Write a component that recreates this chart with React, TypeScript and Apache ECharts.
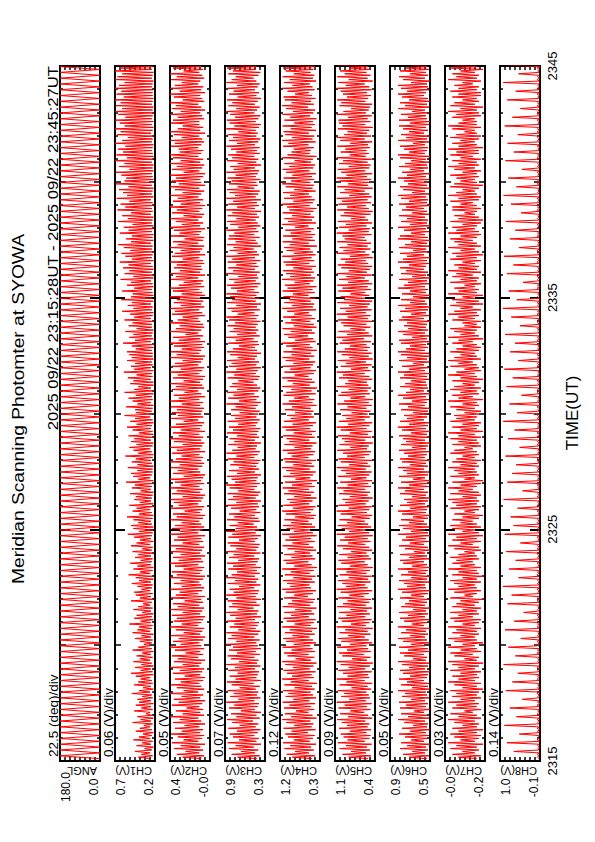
import React, { useEffect, useRef } from "react";
import * as echarts from "echarts";

// ---------- text ----------
const TITLE = "Meridian Scanning Photomter at SYOWA";
const PERIOD = "2025 09/22 23:15:28UT - 2025 09/22 23:45:27UT";
const X_NAME = "TIME(UT)";
const CHANNELS = ["ANGL", "CH1(V)", "CH2(V)", "CH3(V)", "CH4(V)", "CH5(V)", "CH6(V)", "CH7(V)", "CH8(V)"];
const DIV_LABELS = ["22.5 (deg)/div", "0.06 (V)/div", "0.05 (V)/div", "0.07 (V)/div", "0.12 (V)/div", "0.09 (V)/div", "0.05 (V)/div", "0.03 (V)/div", "0.14 (V)/div"];
const AXIS_MIN = [0, 0.2, -0.01, 0.3, 0.3, 0.4, 0.5, -0.2, -0.1];
const AXIS_MAX = [180, 0.7, 0.4, 0.9, 1.2, 1.1, 0.9, -0.004, 1.0];
// time in minutes after 23:15 UT
const TIME_MIN = 0;
const TIME_MAX = 30;
const TIME_TICKS = [0, 10, 20, 30];
const TIME_START = 0.1;
const ANGLE_STEP = 0.125; // minutes between angle samples
const CH_STEP = 0.0625; // minutes between photometer samples

// ---------- data ----------
// scan angle, degrees
const ANGLE = [
  0,180,0,180,0,180,0,180,0,180,0,180,0,180,0,180,0,180,0,180,
  0,180,0,180,0,180,0,180,0,180,0,180,0,180,0,180,0,180,0,180,
  0,180,0,180,0,180,0,180,0,180,0,180,0,180,0,180,0,180,0,180,
  0,180,0,180,0,180,0,180,0,180,0,180,0,180,0,180,0,180,0,180,
  0,180,0,180,0,180,0,180,0,180,0,180,0,180,0,180,0,180,0,180,
  0,180,0,180,0,180,0,180,0,180,0,180,0,180,0,180,0,180,0,180,
  0,180,0,180,0,180,0,180,0,180,0,180,0,180,0,180,0,180,0,180,
  0,180,0,180,0,180,0,180,0,180,0,180,0,180,0,180,0,180,0,180,
  0,180,0,180,0,180,0,180,0,180,0,180,0,180,0,180,0,180,0,180,
  0,180,0,180,0,180,0,180,0,180,0,180,0,180,0,180,0,180,0,180,
  0,180,0,180,0,180,0,180,0,180,0,180,0,180,0,180,0,180,0,180,
  0,180,0,180,0,180,0,180,0,180,0,180,0,180,0,180,0,180,0,180,
];
// photometer channels, in units of 0.01 V
const CV = 0.01;
const CH1 = [
  25,41,23,37,26,45,24,33,22,43,25,36,23,47,26,40,24,35,22,44,
  24,39,26,34,23,48,25,38,22,42,24,31,26,46,23,37,25,44,22,40,
  25,42,23,36,24,49,26,40,22,35,25,46,23,41,24,38,26,44,22,50,
  23,38,25,45,22,37,24,47,26,39,23,43,25,36,22,48,24,41,26,34,
  24,39,23,45,25,37,22,48,26,42,24,40,23,52,25,38,22,46,24,43,
  22,36,25,47,23,41,26,35,24,50,22,39,25,44,23,46,26,37,24,42,
  23,49,25,40,22,44,24,53,26,39,23,47,22,42,25,51,24,38,23,45,
  25,41,22,48,24,36,23,50,26,43,22,39,25,46,24,54,23,40,22,47,
  22,50,24,41,25,47,23,55,22,40,24,48,26,43,23,52,22,39,25,46,
  24,44,23,51,22,38,25,49,24,45,23,56,22,41,26,47,24,50,23,42,
  23,54,22,42,24,49,25,44,23,57,22,41,24,47,26,52,23,43,22,50,
  25,46,24,53,22,40,23,48,25,55,24,43,22,51,23,45,26,58,24,44,
  24,45,23,56,22,42,25,48,23,53,24,44,22,58,23,46,25,41,22,51,
  22,47,25,54,23,43,24,59,22,46,25,50,23,45,24,55,22,49,23,52,
  23,55,24,44,22,49,23,60,25,45,22,52,24,47,23,57,22,43,24,53,
  24,48,22,58,25,46,23,51,22,61,24,47,23,54,25,49,22,62,24,50,
  22,48,23,61,24,46,22,55,23,50,25,63,22,47,23,58,24,52,22,60,
  23,53,25,64,22,49,24,57,23,62,22,51,24,59,23,66,25,50,22,56,
  23,49,22,64,24,53,23,59,22,48,24,66,23,54,22,61,25,50,23,67,
  24,57,22,63,23,52,25,68,22,55,24,60,23,65,22,53,24,69,23,58,
  22,56,23,62,24,69,22,52,23,65,22,58,24,70,23,55,22,68,23,60,
  24,66,23,57,22,70,24,61,23,54,22,67,25,63,23,70,22,58,24,64,
  22,70,24,57,23,66,22,70,23,61,22,69,24,63,23,70,22,59,23,68,
  23,62,22,70,24,65,23,58,22,70,24,67,23,61,22,70,24,64,23,69,
];
const CH2 = [
  8,27,5,33,10,24,6,36,9,29,4,38,11,26,7,32,5,39,9,28,
  6,35,10,25,4,37,8,30,11,40,5,27,9,34,6,23,10,38,7,31,
  4,36,9,28,6,40,11,26,5,33,8,39,10,29,6,35,4,25,9,37,
  7,30,5,40,10,27,8,36,4,32,11,38,6,24,9,35,5,40,8,29,
  10,37,6,31,4,39,9,26,7,34,5,40,11,28,8,36,6,33,4,38,
  9,27,7,40,5,32,10,37,6,25,8,39,4,34,11,30,7,40,5,28,
  8,36,10,29,6,40,4,33,9,38,7,26,5,35,11,40,6,31,8,37,
  4,29,9,39,7,34,5,40,10,27,6,36,8,32,4,40,11,30,7,38,
  5,35,8,28,10,40,6,33,4,37,9,25,7,39,5,31,11,36,8,40,
  6,27,4,38,9,33,7,40,10,29,5,35,8,40,6,26,4,37,9,32,
  11,39,7,30,5,40,8,34,6,28,10,38,4,33,9,40,7,27,5,36,
  8,40,6,31,10,37,4,29,9,40,7,34,5,26,11,39,6,32,8,38,
  7,33,5,39,9,28,6,40,10,31,4,36,8,25,11,38,5,34,7,40,
  9,26,6,37,4,32,10,40,7,29,5,38,11,35,8,27,6,40,4,33,
  10,39,8,28,5,36,7,40,4,31,9,37,6,24,11,40,8,34,5,30,
  6,40,9,32,11,27,4,38,7,35,10,40,5,29,8,36,6,33,9,40,
  4,28,7,37,10,40,5,31,8,26,6,39,11,34,4,40,9,30,7,36,
  8,33,5,40,6,27,10,38,4,35,9,29,7,40,5,32,11,37,6,25,
  5,39,10,30,8,36,4,40,9,28,6,34,11,40,7,26,5,38,10,33,
  7,40,4,29,9,37,6,32,11,40,8,27,5,35,10,40,4,31,8,38,
  9,34,6,40,4,26,10,38,7,33,5,40,9,29,6,37,11,40,8,30,
  6,31,11,39,8,35,5,40,7,28,10,36,4,40,9,32,6,27,10,39,
  10,37,5,32,7,40,9,29,4,38,8,34,11,40,5,27,7,36,9,40,
  4,30,8,40,6,35,11,28,9,39,5,33,7,40,10,26,6,37,8,40,
];
const CH3 = [
  42,71,38,80,45,66,40,84,47,74,36,86,43,69,39,78,46,83,41,72,
  37,85,44,68,40,79,48,87,38,73,43,81,36,66,45,84,41,76,39,88,
  46,70,37,82,42,77,40,86,44,68,38,80,47,87,36,74,43,83,41,71,
  39,85,45,75,37,88,42,69,40,81,46,86,38,72,44,84,36,78,41,87,
  43,73,38,85,46,80,40,88,37,70,44,83,41,76,39,87,45,74,36,82,
  42,88,40,71,47,84,38,79,43,86,36,73,44,88,41,77,39,83,46,69,
  37,86,43,75,40,88,45,80,38,72,42,85,36,78,44,87,41,70,39,84,
  46,77,37,88,43,73,40,82,38,86,45,69,41,85,36,79,44,88,39,74,
  42,83,47,71,38,87,40,76,45,84,37,68,43,81,39,88,41,73,36,85,
  44,78,40,86,37,70,46,83,42,88,38,75,43,80,41,87,36,72,45,84,
  39,69,43,82,40,77,37,86,46,73,41,88,38,79,44,71,42,85,36,76,
  45,83,39,72,42,87,40,78,37,84,44,70,41,86,38,75,43,81,40,68,
  38,81,44,74,41,88,36,69,43,85,39,77,46,87,40,72,37,83,42,79,
  47,70,40,86,38,76,44,88,41,73,36,84,43,80,39,87,45,71,42,82,
  36,87,42,78,45,69,39,85,41,74,47,88,38,72,43,83,40,77,44,86,
  41,75,37,84,43,88,40,71,46,80,38,86,42,73,36,87,44,79,39,82,
  43,88,39,72,46,81,41,87,37,76,44,84,40,70,42,88,38,78,45,85,
  40,73,43,86,37,79,45,88,39,71,42,83,47,77,36,87,41,74,44,85,
  38,84,46,76,40,88,43,70,37,82,41,87,44,73,39,86,42,79,36,88,
  45,72,39,85,42,78,36,88,44,75,40,83,38,87,46,71,41,84,43,80,
  37,86,44,74,41,88,39,77,45,82,36,71,43,87,40,79,46,85,38,73,
  42,81,38,88,45,72,40,84,37,78,43,86,41,70,44,88,39,76,36,83,
  44,87,40,75,37,82,46,88,42,73,38,85,45,79,41,87,36,71,43,84,
  39,77,45,86,41,72,38,88,43,80,47,74,40,85,37,78,44,87,42,70,
];
const CH4 = [
  48,92,41,105,55,86,44,110,50,97,39,113,53,89,46,102,42,108,57,94,
  40,112,49,88,45,106,52,115,38,95,47,109,56,84,43,111,50,99,41,114,
  54,90,39,107,46,101,51,113,42,87,48,110,37,96,55,115,44,93,49,104,
  40,112,53,91,45,108,38,115,50,85,43,103,56,111,41,94,47,114,52,89,
  39,106,46,113,54,92,42,109,48,98,37,115,51,87,44,105,40,112,55,95,
  43,110,49,86,38,114,52,102,45,93,41,111,57,88,46,107,39,115,50,97,
  54,104,42,113,48,90,40,109,53,96,44,115,37,88,49,106,56,112,41,94,
  47,111,52,87,39,103,45,114,55,92,42,108,50,99,38,115,46,89,53,105,
  41,113,48,95,56,110,43,86,39,107,51,115,45,91,40,112,54,98,47,104,
  38,88,50,111,44,101,55,114,42,93,48,109,37,85,52,113,46,97,40,106,
  53,115,43,90,49,108,39,112,56,94,45,103,41,114,50,87,47,110,38,99,
  54,105,42,113,48,89,40,107,52,115,46,92,39,111,55,96,44,104,49,86,
  45,109,51,93,38,114,47,100,43,88,55,112,40,106,49,95,37,115,53,91,
  42,103,48,115,56,87,44,110,39,97,51,113,46,90,41,107,54,114,43,94,
  50,112,37,92,47,106,53,115,40,86,45,101,57,111,42,96,48,114,38,89,
  44,108,52,95,41,113,49,88,55,104,39,115,46,93,43,110,51,99,40,112,
  56,91,42,114,47,103,38,109,53,87,45,115,41,97,50,106,44,113,48,90,
  39,107,54,112,43,94,49,115,40,89,46,105,52,111,37,98,55,114,42,92,
  47,113,41,96,50,108,44,86,56,115,39,102,48,110,43,93,51,114,45,99,
  38,104,53,115,46,90,42,111,49,97,55,113,40,88,47,107,44,115,52,95,
  43,112,48,92,39,106,54,114,45,99,41,110,50,87,46,115,38,103,53,94,
  51,89,44,113,56,101,40,115,47,93,43,108,55,112,39,96,49,114,42,88,
  46,110,38,97,52,114,45,91,41,106,57,115,44,94,50,109,40,112,48,86,
  55,103,42,115,47,92,53,111,39,98,46,114,43,89,51,107,45,113,41,95,
];
const CH5 = [
  52,86,47,97,56,82,49,102,54,91,46,105,58,88,50,95,48,100,55,84,
  47,103,53,89,50,98,57,106,45,87,52,101,59,83,48,104,54,93,46,107,
  56,85,49,99,51,94,55,105,47,81,53,102,45,90,58,107,50,88,52,96,
  46,104,57,86,49,100,44,107,54,80,48,97,59,103,47,89,52,106,55,84,
  45,99,51,105,58,87,48,102,53,92,44,107,56,82,50,98,46,104,57,90,
  49,103,54,83,45,106,56,96,50,88,47,104,59,85,51,100,45,107,53,91,
  57,97,48,105,52,86,46,102,55,90,49,107,44,84,53,99,58,104,47,88,
  51,103,55,82,45,96,50,106,57,87,48,101,53,93,44,107,50,85,56,98,
  47,105,52,89,58,102,49,81,45,100,54,107,50,86,46,104,56,92,51,97,
  44,84,53,103,49,95,57,106,47,88,52,101,45,82,55,105,50,91,46,99,
  56,107,48,85,53,100,45,104,58,89,50,96,47,106,54,83,51,102,44,93,
  57,98,47,105,52,84,46,100,55,107,50,87,45,103,58,90,49,97,53,81,
  48,101,55,88,46,106,51,94,44,83,57,104,49,99,53,86,47,107,52,92,
  54,87,45,103,50,96,58,107,48,82,52,100,46,91,56,105,44,85,51,98,
  46,106,53,93,49,84,55,102,47,97,59,107,45,89,51,104,57,83,48,95,
  55,99,44,105,52,88,48,107,56,91,46,101,53,85,49,106,45,94,58,100,
  50,83,57,104,47,97,53,106,45,87,51,103,58,90,46,107,54,86,49,99,
  45,105,52,92,56,100,44,84,50,107,57,95,48,102,53,88,47,106,55,93,
  58,97,46,107,51,86,49,103,55,91,45,105,52,82,57,100,48,94,44,106,
  51,89,56,104,47,98,53,107,46,85,50,101,58,93,44,106,52,87,49,102,
  47,107,54,90,45,99,57,105,50,86,48,103,53,96,46,107,56,84,51,100,
  55,92,49,106,52,83,45,101,58,107,47,94,54,88,50,105,44,97,57,103,
  48,104,53,87,46,107,56,95,51,82,49,102,45,99,57,106,52,89,47,96,
  54,100,46,107,50,91,58,104,44,86,53,106,48,93,55,101,49,85,52,107,
];
const CH6 = [
  53,71,51,77,55,68,52,80,54,73,50,79,56,69,52,75,51,81,54,70,
  50,78,53,67,52,76,55,82,51,72,53,79,56,66,50,80,54,74,52,81,
  55,69,51,78,53,75,54,82,50,68,52,79,51,73,56,81,53,70,52,77,
  50,80,55,71,52,78,51,82,54,67,53,76,56,80,50,72,52,81,55,69,
  51,77,53,82,55,70,52,79,54,74,50,82,56,68,53,76,51,80,55,72,
  52,81,54,67,50,79,55,75,53,71,51,80,56,69,52,78,50,82,54,73,
  55,76,51,81,53,69,50,79,54,72,52,82,50,68,53,77,56,80,51,71,
  53,80,55,66,50,75,52,81,56,70,51,78,54,74,50,82,52,69,55,77,
  51,81,53,71,56,79,52,67,50,78,54,82,53,70,51,80,55,73,52,76,
  50,68,54,80,52,75,56,82,51,71,53,79,50,67,55,81,52,73,51,77,
  56,82,52,70,54,78,50,80,55,72,53,76,51,81,54,68,52,79,50,74,
  55,77,51,81,53,69,50,78,54,82,52,71,51,80,56,73,53,76,52,67,
  52,79,50,72,55,81,53,68,51,77,54,82,50,74,56,70,52,80,53,75,
  54,69,51,80,53,76,50,82,55,71,52,78,56,67,51,81,53,73,50,79,
  51,82,55,74,52,70,54,79,50,81,53,68,51,77,55,82,52,72,54,76,
  53,73,50,81,56,78,51,69,54,80,52,75,50,82,53,70,55,79,51,67,
  50,78,54,70,52,82,55,76,51,72,53,81,50,68,54,79,52,74,56,80,
  54,71,51,82,53,77,50,73,56,80,52,67,54,81,51,75,53,69,50,82,
  52,80,55,69,51,76,54,82,50,70,53,79,52,73,55,81,51,68,53,78,
  56,74,50,81,53,71,52,79,54,82,51,68,55,77,50,80,53,72,52,76,
  51,82,54,73,50,78,56,70,52,81,53,75,51,69,54,80,50,82,55,71,
  53,76,52,80,55,67,51,82,53,74,50,79,56,71,52,77,54,81,51,70,
  50,81,53,72,54,79,52,68,55,82,51,75,53,80,50,71,52,78,56,82,
  54,73,51,79,52,82,53,69,50,77,55,81,52,70,54,80,51,74,53,67,
];
const CH7 = [
  -16,-7,-18,-4,-15,-9,-17,-3,-16,-6,-19,-2,-15,-8,-17,-5,-18,-3,-16,-7,
  -19,-4,-16,-9,-17,-5,-15,-2,-18,-7,-16,-3,-14,-10,-18,-4,-16,-6,-17,-2,
  -15,-8,-18,-4,-16,-6,-17,-3,-19,-9,-16,-5,-18,-2,-15,-7,-17,-4,-16,-8,
  -18,-3,-15,-7,-17,-4,-19,-2,-16,-10,-17,-5,-14,-3,-18,-8,-16,-2,-15,-9,
  -19,-5,-16,-2,-15,-8,-17,-4,-16,-6,-18,-2,-15,-9,-17,-5,-18,-3,-14,-7,
  -17,-3,-16,-9,-18,-4,-15,-6,-17,-8,-19,-3,-14,-10,-16,-5,-18,-2,-16,-7,
  -15,-5,-18,-3,-16,-9,-19,-4,-17,-7,-16,-2,-18,-8,-15,-4,-14,-6,-17,-3,
  -16,-7,-15,-10,-18,-5,-17,-2,-14,-8,-18,-4,-16,-6,-19,-2,-17,-9,-15,-4,
  -18,-3,-16,-8,-14,-4,-17,-9,-19,-5,-15,-10,-17,-3,-18,-6,-16,-4,-17,-2,
  -16,-9,-18,-3,-17,-7,-14,-2,-16,-8,-18,-4,-19,-10,-15,-3,-17,-7,-16,-5,
  -15,-2,-17,-8,-16,-4,-18,-6,-15,-9,-17,-3,-16,-5,-14,-10,-18,-4,-17,-7,
  -16,-3,-18,-7,-15,-2,-19,-8,-16,-4,-17,-9,-18,-3,-15,-6,-16,-5,-17,-10,
  -18,-6,-15,-3,-17,-9,-16,-2,-19,-7,-14,-4,-17,-8,-16,-3,-18,-5,-15,-9,
  -17,-4,-19,-8,-16,-2,-15,-6,-18,-10,-17,-3,-16,-7,-14,-2,-18,-5,-16,-8,
  -15,-3,-17,-6,-18,-9,-16,-4,-14,-7,-19,-2,-17,-8,-15,-5,-16,-3,-18,-10,
  -16,-9,-18,-4,-15,-7,-17,-2,-16,-5,-18,-8,-14,-3,-19,-6,-17,-4,-15,-9,
  -19,-2,-16,-7,-17,-5,-15,-10,-18,-3,-16,-8,-17,-4,-14,-6,-18,-2,-16,-7,
  -17,-5,-15,-9,-18,-3,-16,-6,-19,-4,-17,-8,-15,-2,-18,-7,-16,-5,-14,-3,
  -16,-8,-18,-2,-17,-6,-15,-4,-16,-9,-18,-3,-19,-7,-17,-5,-15,-10,-16,-4,
  -18,-4,-16,-8,-14,-3,-17,-7,-18,-2,-16,-6,-15,-9,-17,-3,-19,-5,-16,-8,
  -15,-6,-17,-3,-16,-9,-18,-5,-15,-2,-17,-7,-16,-4,-18,-8,-14,-3,-17,-6,
  -17,-2,-19,-7,-16,-4,-15,-8,-17,-3,-18,-6,-16,-10,-15,-4,-18,-2,-16,-7,
  -16,-9,-15,-4,-18,-6,-17,-2,-16,-8,-19,-3,-15,-5,-17,-9,-16,-4,-18,-7,
  -18,-3,-16,-7,-17,-5,-14,-9,-18,-2,-16,-6,-17,-4,-15,-8,-19,-3,-16,-5,
];
const CH8 = [
  -8,-3,-7,-2,-8,62,-7,-4,-9,-3,-8,81,-9,-2,-7,-4,-8,47,-8,-3,-9,-2,-7,88,
  -7,-4,-8,-2,-9,55,-9,-3,-7,-4,-8,73,-8,-2,-9,-3,-7,39,-7,-4,-8,-2,-9,84,
  -9,-3,-8,-4,-7,66,-8,-2,-7,-3,-9,51,-7,-4,-9,-2,-8,90,-9,-3,-8,-4,-7,58,
  -8,-2,-9,-3,-7,77,-7,-4,-8,-2,-9,43,-9,-3,-7,-4,-8,86,-8,-2,-9,-3,-7,61,
  -7,-4,-8,-2,-9,35,-9,-3,-7,-4,-8,79,-8,-2,-9,-3,-7,68,-7,-4,-8,-2,-9,92,
  -9,-3,-8,-4,-7,49,-8,-2,-7,-3,-9,75,-7,-4,-9,-2,-8,57,-9,-3,-8,-4,-7,83,
  -8,-2,-9,-3,-7,44,-7,-4,-8,-2,-9,87,-9,-3,-7,-4,-8,63,-8,-2,-9,-3,-7,71,
  -7,-4,-8,-2,-9,52,-9,-3,-7,-4,-8,90,-8,-2,-9,-3,-7,38,-7,-4,-8,-2,-9,80,
  -9,-3,-8,-4,-7,67,-8,-2,-7,-3,-9,56,-7,-4,-9,-2,-8,85,-9,-3,-8,-4,-7,46,
  -8,-2,-9,-3,-7,78,-7,-4,-8,-2,-9,60,-9,-3,-7,-4,-8,91,-8,-2,-9,-3,-7,53,
  -7,-4,-8,-2,-9,74,-9,-3,-7,-4,-8,41,-8,-2,-9,-3,-7,82,-7,-4,-8,-2,-9,65,
  -9,-3,-8,-4,-7,88,-8,-2,-7,-3,-9,50,-7,-4,-9,-2,-8,72,-9,-3,-8,-4,-7,59,
  -8,-2,-9,-3,-7,86,-7,-4,-8,-2,-9,45,-9,-3,-7,-4,-8,69,-8,-2,-9,-3,-7,92,
  -7,-4,-8,-2,-9,54,-9,-3,-7,-4,-8,76,-8,-2,-9,-3,-7,37,-7,-4,-8,-2,-9,81,
  -9,-3,-8,-4,-7,63,-8,-2,-7,-3,-9,89,-7,-4,-9,-2,-8,48,-9,-3,-8,-4,-7,73,
  -8,-2,-9,-3,-7,58,-7,-4,-8,-2,-9,84,-9,-3,-7,-4,-8,42,-8,-2,-9,-3,-7,70,
  -7,-4,-8,-2,-9,90,-9,-3,-7,-4,-8,55,-8,-2,-9,-3,-7,77,-7,-4,-8,-2,-9,40,
  -9,-3,-8,-4,-7,85,-8,-2,-7,-3,-9,62,-7,-4,-9,-2,-8,79,-9,-3,-8,-4,-7,51,
  -8,-2,-9,-3,-7,87,-7,-4,-8,-2,-9,66,-9,-3,-7,-4,-8,44,-8,-2,-9,-3,-7,80,
  -7,-4,-8,-2,-9,57,-9,-3,-7,-4,-8,91,-8,-2,-9,-3,-7,49,-7,-4,-8,-2,-9,75,
];
const SERIES_DATA = [ANGLE, CH1, CH2, CH3, CH4, CH5, CH6, CH7, CH8];
const SERIES_UNIT = [1, CV, CV, CV, CV, CV, CV, CV, CV];
const SERIES_STEP = [ANGLE_STEP, CH_STEP, CH_STEP, CH_STEP, CH_STEP, CH_STEP, CH_STEP, CH_STEP, CH_STEP];

// ---------- layout ----------
const FONT = "'Liberation Sans', Arial, Helvetica, sans-serif";
const PANEL_LEFT0 = 60;
const PANEL_GAP = 55;
const PANEL_W = 40;
const PANEL_TOP = 66;
const PANEL_H = 695;
const BLACK = "#000000";
const RED = "#ff0000";

function timeLabel(v: number): string {
  const m = 15 + Math.round(v);
  return "23" + String(m).padStart(2, "0");
}

function buildOption() {
  const grid: any[] = [];
  const xAxis: any[] = [];
  const yAxis: any[] = [];
  const series: any[] = [];
  const graphic: any[] = [];

  SERIES_DATA.forEach((vals, k) => {
    const left = PANEL_LEFT0 + k * PANEL_GAP;
    grid.push({
      left, top: PANEL_TOP, width: PANEL_W, height: PANEL_H,
      show: true, borderColor: BLACK, borderWidth: 2, backgroundColor: "transparent",
    });
    const mn = AXIS_MIN[k];
    const mx = AXIS_MAX[k];
    const inner: number[] = [];
    for (let j = 1; j < 8; j++) inner.push(mn + (j * (mx - mn)) / 8);
    const xBase = {
      type: "value", gridIndex: k, min: mn, max: mx, inverse: true,
      axisLine: { show: false, onZero: false }, splitLine: { show: false },
    };
    const tickStyle = { color: BLACK, width: 1.5 };
    const lblBase = {
      show: true, rotate: 90, margin: 26, fontSize: 12, color: BLACK, fontFamily: FONT,
      align: "center", formatter: (v: number) => v.toFixed(1),
    };
    xAxis.push({
      ...xBase, position: "bottom",
      axisTick: { show: true, inside: true, length: 4, customValues: inner, lineStyle: tickStyle },
      axisLabel: { ...lblBase, customValues: [mx], verticalAlign: "top" },
    });
    xAxis.push({
      ...xBase, position: "bottom",
      axisTick: { show: false },
      axisLabel: { ...lblBase, customValues: [mn], verticalAlign: "bottom" },
    });
    xAxis.push({
      ...xBase, position: "top",
      axisTick: { show: true, inside: true, length: 4, customValues: inner, lineStyle: tickStyle },
      axisLabel: { show: false },
    });

    const yBase = {
      type: "value", gridIndex: k, min: TIME_MIN, max: TIME_MAX,
      axisLine: { show: false, onZero: false }, splitLine: { show: false },
    };
    ["left", "right"].forEach((pos) => {
      yAxis.push({
        ...yBase, position: pos, interval: 5,
        axisTick: { show: true, inside: true, length: 6, lineStyle: { color: BLACK, width: 1.5 } },
        minorTick: { show: true, splitNumber: 5, length: 3, lineStyle: { color: BLACK, width: 1.5 } },
        axisLabel: { show: false },
      });
    });
    yAxis.push({
      ...yBase, position: "left",
      axisTick: { show: true, inside: true, length: 10, customValues: TIME_TICKS, lineStyle: { color: BLACK, width: 2 } },
      axisLabel: { show: false },
    });
    yAxis.push({
      ...yBase, position: "right",
      axisTick: { show: true, inside: true, length: 10, customValues: TIME_TICKS, lineStyle: { color: BLACK, width: 2 } },
      axisLabel: k === SERIES_DATA.length - 1
        ? { show: true, customValues: TIME_TICKS, formatter: timeLabel, rotate: 90, margin: 6, fontSize: 13, color: BLACK, fontFamily: FONT }
        : { show: false },
    });

    const unit = SERIES_UNIT[k];
    const step = SERIES_STEP[k];
    series.push({
      type: "line", xAxisIndex: k * 3, yAxisIndex: k * 4,
      data: vals.map((v, i) => [v * unit, TIME_START + i * step]),
      showSymbol: false, symbol: "none", silent: true, clip: true,
      lineStyle: { color: RED, width: 1 },
    });

    graphic.push({
      type: "text", x: left + PANEL_W - 3, y: 771, rotation: Math.PI,
      style: { text: CHANNELS[k], fontSize: 11, fontFamily: FONT, fill: BLACK, align: "left", verticalAlign: "middle" },
    });
    graphic.push({
      type: "text", x: left - 7, y: 757, rotation: Math.PI / 2,
      style: { text: DIV_LABELS[k], fontSize: 13.5, fontFamily: FONT, fill: BLACK, align: "left", verticalAlign: "middle" },
    });
  });

  graphic.push({
    type: "text", x: 19, y: 584, rotation: Math.PI / 2, scaleX: 1.2,
    style: { text: TITLE, fontSize: 16, fontFamily: FONT, fill: BLACK, align: "left", verticalAlign: "middle" },
  });
  graphic.push({
    type: "text", x: 53, y: 66, rotation: Math.PI / 2, scaleX: 1.19,
    style: { text: PERIOD, fontSize: 14, fontFamily: FONT, fill: BLACK, align: "right", verticalAlign: "middle" },
  });
  graphic.push({
    type: "text", x: 572, y: 413, rotation: Math.PI / 2,
    style: { text: X_NAME, fontSize: 17, fontFamily: FONT, fill: BLACK, align: "center", verticalAlign: "middle" },
  });

  return {
    animation: false,
    backgroundColor: "#ffffff",
    textStyle: { fontFamily: FONT },
    grid, xAxis, yAxis, series, graphic,
  };
}

export default function App() {
  const ref = useRef<HTMLDivElement>(null);
  useEffect(() => {
    if (!ref.current) return;
    const chart = echarts.init(ref.current, undefined, { renderer: "svg" });
    chart.setOption(buildOption() as any);
    return () => chart.dispose();
  }, []);
  return (
    <div
      ref={ref}
      style={{ position: "absolute", left: 0, top: 0, width: 595, height: 842, background: "#fff" }}
    />
  );
}
